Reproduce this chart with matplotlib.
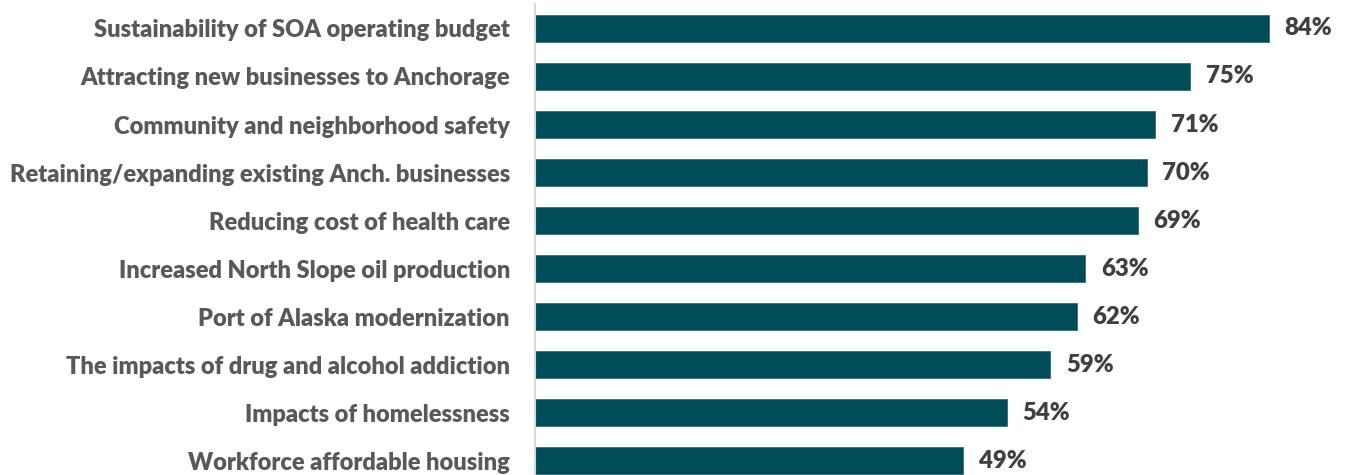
import matplotlib
matplotlib.use("Agg")
import matplotlib.pyplot as plt

categories = [
    "Sustainability of SOA operating budget",
    "Attracting new businesses to Anchorage",
    "Community and neighborhood safety",
    "Retaining/expanding existing Anch. businesses",
    "Reducing cost of health care",
    "Increased North Slope oil production",
    "Port of Alaska modernization",
    "The impacts of drug and alcohol addiction",
    "Impacts of homelessness",
    "Workforce affordable housing",
]
values = [84, 75, 71, 70, 69, 63, 62, 59, 54, 49]

BAR = "#004d57"
LABEL = "#595959"
VALUE = "#404040"

plt.rcParams["font.family"] = ["Lato", "DejaVu Sans"]

W, H = 1351, 475
fig = plt.figure(figsize=(W / 100, H / 100), dpi=100)
ax = fig.add_axes([535 / W, 0, 1 - 535 / W, 471 / H])

pos = list(range(len(categories)))
ax.barh(pos, values, height=0.57, color=BAR, edgecolor="#2f6f77", linewidth=0.6)

for y, v in zip(pos, values):
    ax.text(v + 1.8, y, f"{v}%", va="center", ha="left",
            fontsize=17.2, fontweight="heavy", color=VALUE)

ax.set_yticks(pos)
ax.set_yticklabels(categories, fontsize=17.0, fontweight="heavy", color=LABEL)
ax.tick_params(axis="y", length=0, pad=18)
ax.set_xticks([])
ax.set_xlim(0, 93.4)
ax.set_ylim(9.30, -0.51)

for side in ("top", "right", "bottom"):
    ax.spines[side].set_visible(False)
ax.spines["left"].set_color("#d9d9d9")
ax.spines["left"].set_linewidth(1.5)

fig.savefig("out.png", dpi=100)
